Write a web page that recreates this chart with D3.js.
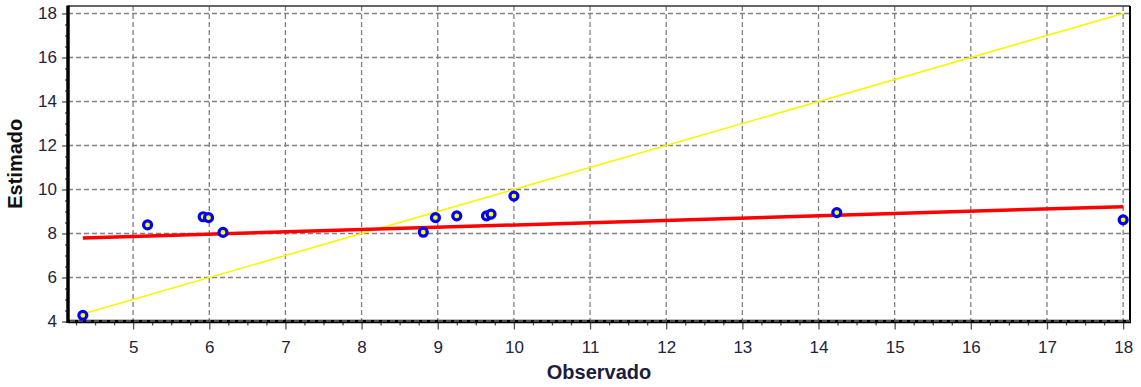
<!DOCTYPE html>
<html>
<head>
<meta charset="utf-8">
<script src="https://cdn.jsdelivr.net/npm/d3@7"></script>
<style>
  body { margin: 0; background: #fff; }
  svg { display: block; }
</style>
</head>
<body>
<div id="chart"></div>
<script>
// observed vs estimated scatter, with the 1:1 line and the fitted line

const observado = [4.34, 5.19, 5.92, 5.99, 6.18, 8.81, 8.97, 9.25, 9.64, 9.70, 10.0, 14.24, 18.0];
const estimado = [4.28, 8.39, 8.76, 8.72, 8.05, 8.06, 8.72, 8.8, 8.8, 8.88, 9.7, 8.95, 8.62];

// fitted line end points
const fitX = [4.34, 18.0];
const fitY = [7.8, 9.22];

// 1:1 line end points
const idealX = [4.27, 18.0];

const xTicks = [5, 6, 7, 8, 9, 10, 11, 12, 13, 14, 15, 16, 17, 18];
const yTicks = [4, 6, 8, 10, 12, 14, 16, 18];

const width = 1141;
const height = 387;
const margin = { top: 6, right: 11, bottom: 65.5, left: 68 };

const svg = d3
  .select("#chart")
  .append("svg")
  .attr("width", width)
  .attr("height", height);

const x = d3
  .scaleLinear()
  .domain([4.145, 18.09])
  .range([margin.left, width - margin.right]);

const y = d3
  .scaleLinear()
  .domain([4, 18.34])
  .range([height - margin.bottom, margin.top]);

const x0 = x.range()[0];
const x1 = x.range()[1];
const y0 = y.range()[0];
const y1 = y.range()[1];

// minor ticks
const xMinor = d3.range(4.25, 18.01, 0.25).filter((v) => Math.abs(v - Math.round(v)) > 0.01);
const yMinor = d3.range(4.5, 18.01, 0.5).filter((v) => Math.abs(v / 2 - Math.round(v / 2)) > 0.01);

// grid
const grid = svg.append("g").attr("class", "grid");
grid
  .selectAll(".vgrid")
  .data(xTicks)
  .enter()
  .append("line")
  .attr("x1", (d) => x(d))
  .attr("x2", (d) => x(d))
  .attr("y1", y1)
  .attr("y2", y0)
  .attr("stroke", "#808080")
  .attr("stroke-width", 1.3)
  .attr("stroke-dasharray", "5,3");
grid
  .selectAll(".hgrid")
  .data(yTicks.filter((d) => d > 4))
  .enter()
  .append("line")
  .attr("x1", x0)
  .attr("x2", x1)
  .attr("y1", (d) => y(d))
  .attr("y2", (d) => y(d))
  .attr("stroke", "#808080")
  .attr("stroke-width", 1.3)
  .attr("stroke-dasharray", "5,3");

// axes
const tickFont = "'Liberation Sans', Arial, sans-serif";

const xAxisMinor = svg
  .append("g")
  .attr("transform", `translate(0,${y0})`)
  .call(d3.axisBottom(x).tickValues(xMinor).tickSize(4).tickFormat(""));
const xAxis = svg
  .append("g")
  .attr("transform", `translate(0,${y0})`)
  .call(d3.axisBottom(x).tickValues(xTicks).tickSize(8).tickPadding(11).tickFormat(d3.format("d")));

const yAxisMinor = svg
  .append("g")
  .attr("transform", `translate(${x0},0)`)
  .call(d3.axisLeft(y).tickValues(yMinor).tickSize(3).tickFormat(""));
const yAxis = svg
  .append("g")
  .attr("transform", `translate(${x0},0)`)
  .call(d3.axisLeft(y).tickValues(yTicks).tickSize(6).tickPadding(5).tickFormat(d3.format("d")));

[xAxisMinor, xAxis, yAxisMinor, yAxis].forEach((g) => {
  g.select(".domain").remove();
  g.selectAll("line").attr("stroke", "#555").attr("stroke-width", 1.3);
  g.selectAll("text")
    .style("font-family", tickFont)
    .style("font-size", "17px")
    .attr("fill", "#23233a");
});

// frame
svg
  .append("line")
  .attr("x1", x0)
  .attr("x2", x1)
  .attr("y1", y1)
  .attr("y2", y1)
  .attr("stroke", "#333")
  .attr("stroke-width", 1.5);
svg
  .append("line")
  .attr("x1", x1)
  .attr("x2", x1)
  .attr("y1", y1)
  .attr("y2", y0)
  .attr("stroke", "#000")
  .attr("stroke-width", 2);
svg
  .append("line")
  .attr("x1", x0)
  .attr("x2", x0)
  .attr("y1", y1 - 0.5)
  .attr("y2", y0 + 1.5)
  .attr("stroke", "#000")
  .attr("stroke-width", 3.5);
svg
  .append("line")
  .attr("x1", x0)
  .attr("x2", x1 + 1)
  .attr("y1", y0)
  .attr("y2", y0)
  .attr("stroke", "#000")
  .attr("stroke-width", 3.5);
// the dashed grid line at y=4 shows over the thick bottom axis
svg
  .append("line")
  .attr("x1", x0 + 2)
  .attr("x2", x1)
  .attr("y1", y0 - 0.5)
  .attr("y2", y0 - 0.5)
  .attr("stroke", "#9a9a9a")
  .attr("stroke-width", 1)
  .attr("stroke-dasharray", "5,3");

// 1:1 line
svg
  .append("line")
  .attr("x1", x(idealX[0]))
  .attr("y1", y(idealX[0]))
  .attr("x2", x(idealX[1]))
  .attr("y2", y(idealX[1]))
  .attr("stroke", "#f7f700")
  .attr("stroke-width", 1.6);

// fitted line
svg
  .append("line")
  .attr("x1", x(fitX[0]))
  .attr("y1", y(fitY[0]))
  .attr("x2", x(fitX[1]))
  .attr("y2", y(fitY[1]))
  .attr("stroke", "#ff0000")
  .attr("stroke-width", 3.5);

// points
const points = observado.map((v, i) => ({ obs: v, est: estimado[i] }));
svg
  .append("g")
  .selectAll("circle")
  .data(points)
  .enter()
  .append("circle")
  .attr("cx", (d) => x(d.obs))
  .attr("cy", (d) => y(d.est))
  .attr("r", 4)
  .attr("fill", "#ffff00")
  .attr("stroke", "#0000ff")
  .attr("stroke-width", 3.2);

// axis titles
svg
  .append("text")
  .attr("x", (x0 + x1) / 2)
  .attr("y", 379)
  .attr("text-anchor", "middle")
  .style("font-family", tickFont)
  .style("font-weight", "bold")
  .style("font-size", "20px")
  .attr("fill", "#1c1c3c")
  .text("Observado");

svg
  .append("text")
  .attr("transform", `translate(22,${(y0 + y1) / 2}) rotate(-90)`)
  .attr("text-anchor", "middle")
  .style("font-family", tickFont)
  .style("font-weight", "bold")
  .style("font-size", "20px")
  .attr("fill", "#111")
  .text("Estimado");
</script>
</body>
</html>
